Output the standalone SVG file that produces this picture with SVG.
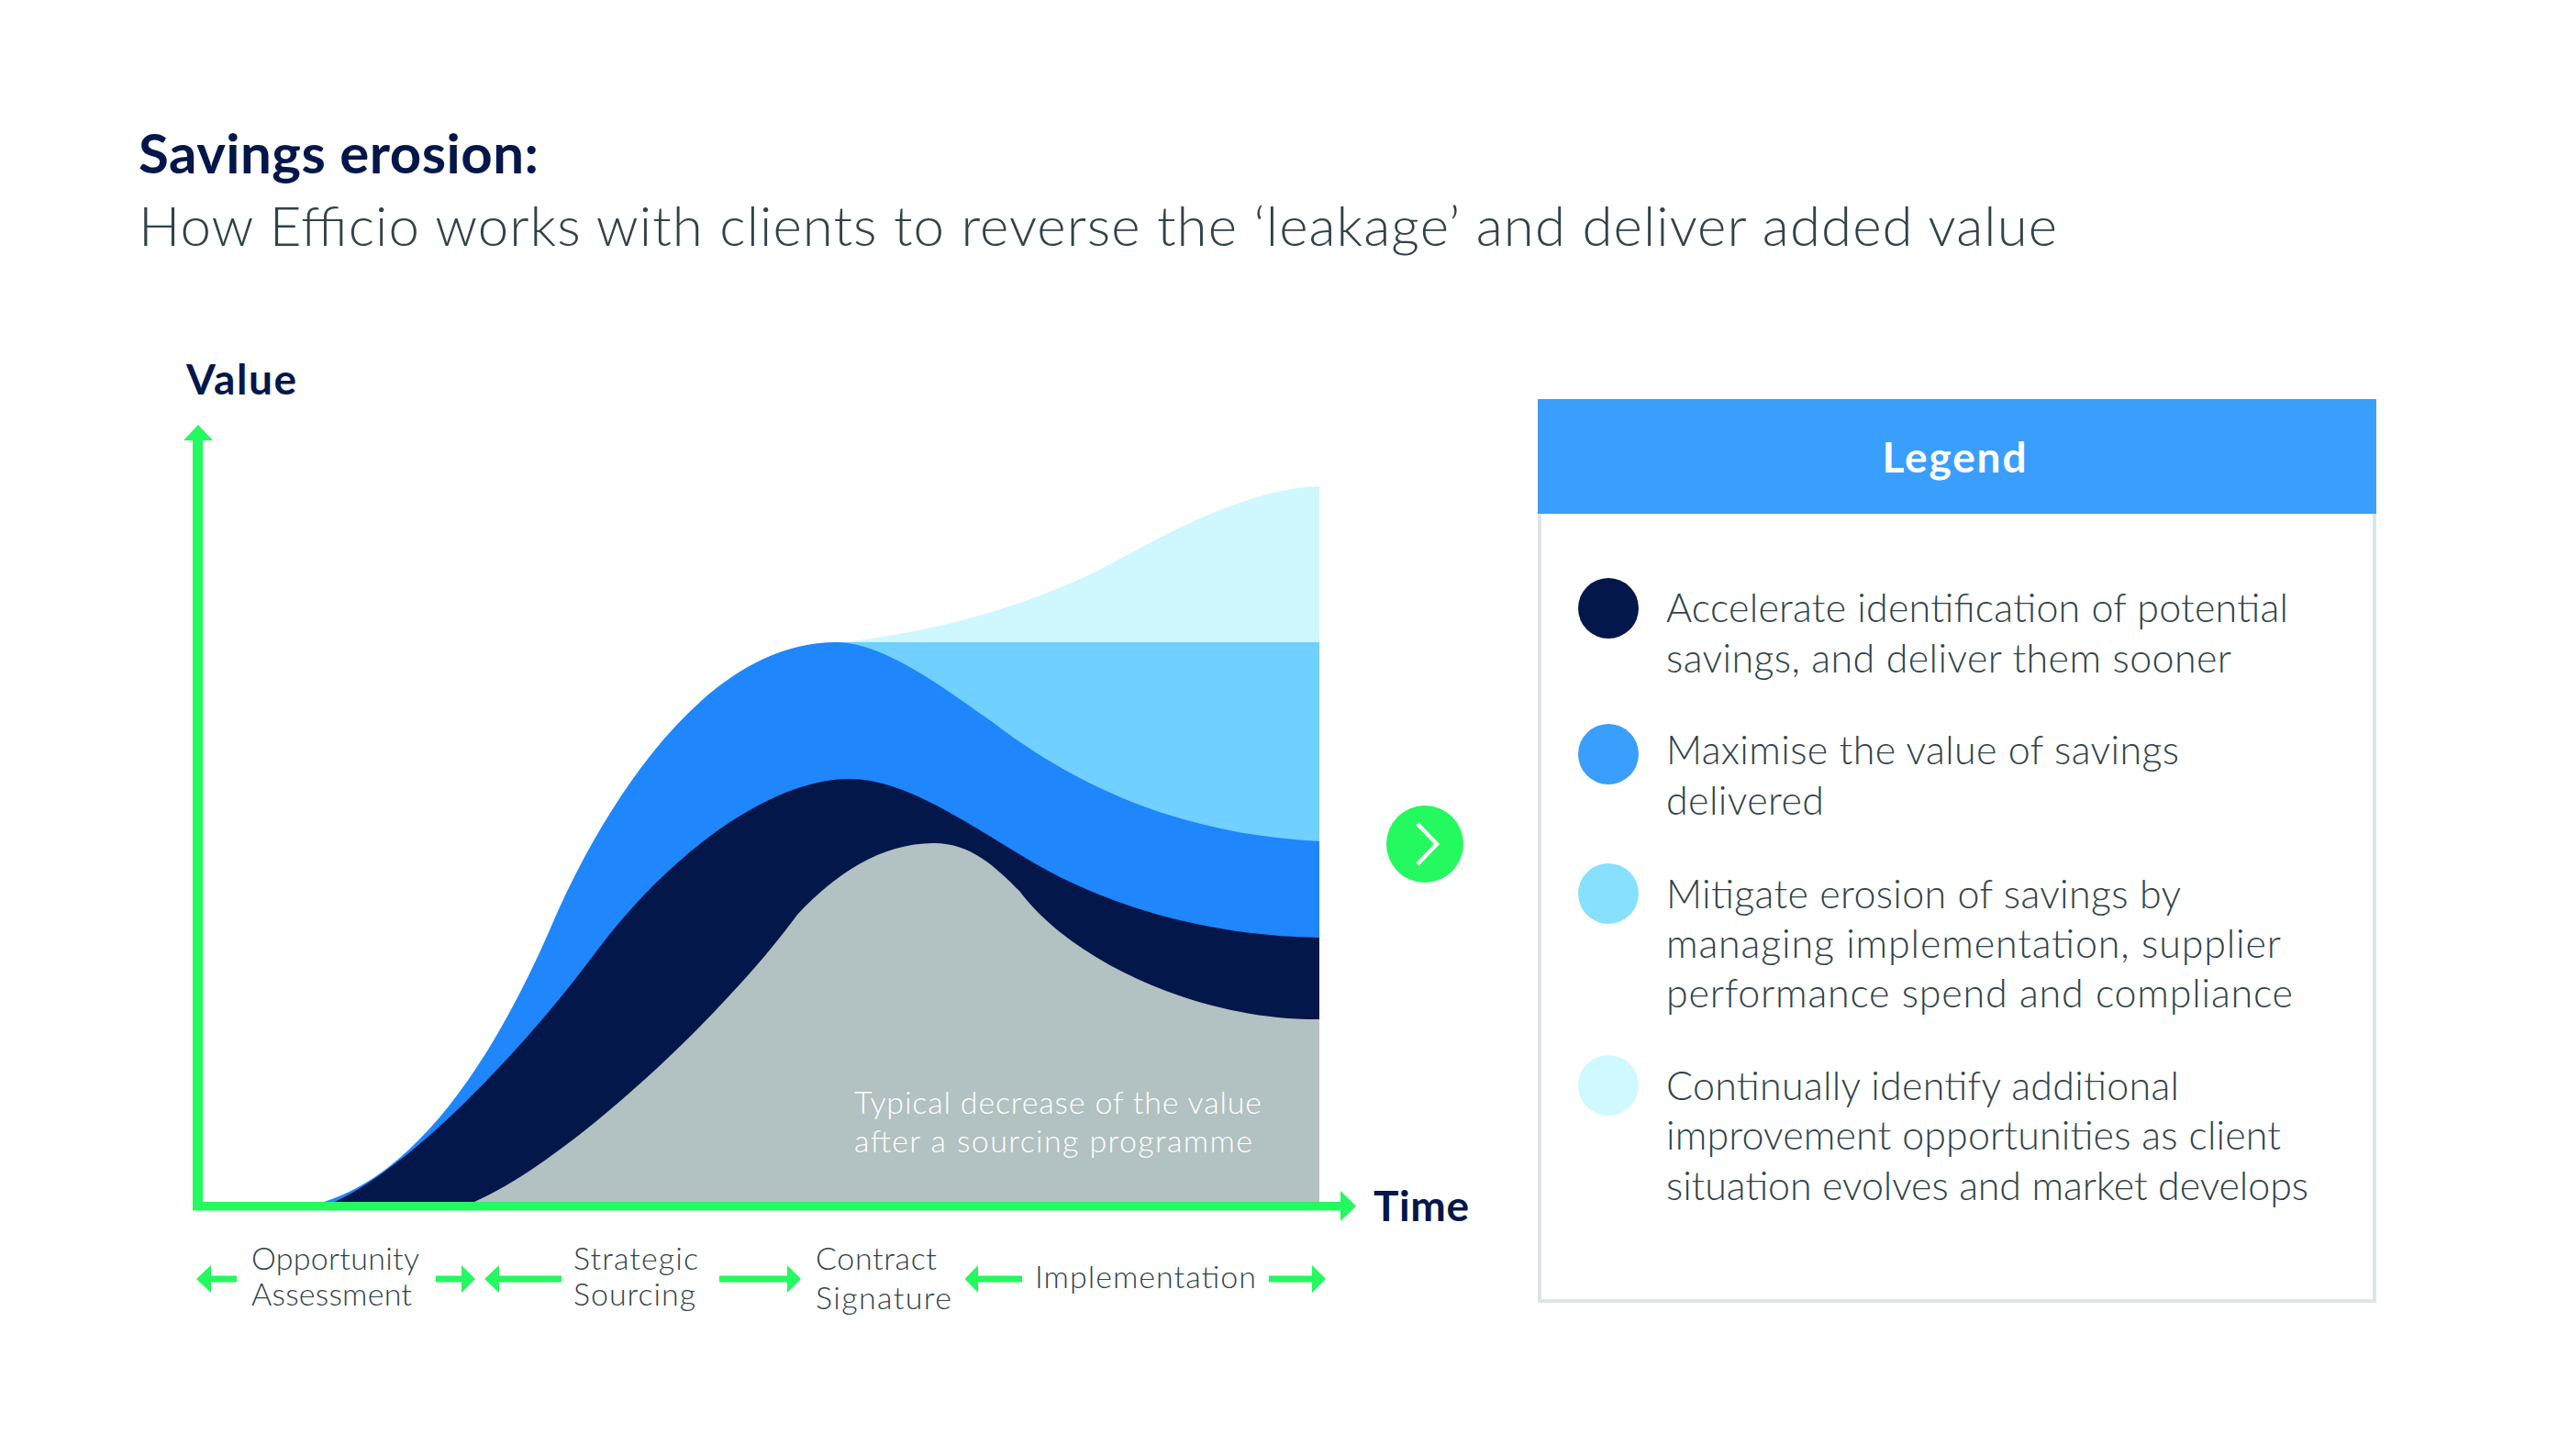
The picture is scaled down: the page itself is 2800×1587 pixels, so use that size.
<svg xmlns="http://www.w3.org/2000/svg" width="2800" height="1587" viewBox="0 0 2800 1587">
<style>
text{font-family:"Lato","Noto Sans",sans-serif}
.h{font-weight:700;fill:#03174a}
.b{font-weight:300;fill:#2f4349}
.l{font-size:34px}
.t{font-size:43px}
.g{fill:#24f95f}
</style>
<rect width="2800" height="1587" fill="#fff"/>
<g id="title">
<text class="h" x="151" y="189" font-size="60" textLength="436">Savings erosion:</text>
<text class="b" x="151" y="268" font-size="60" textLength="2091">How Efficio works with clients to reverse the ‘leakage’ and deliver added value</text>
</g>
<g id="chart-areas">
<path fill="#cff7fe" d="M911 700H919C1030 688 1140 654 1219 610C1290 571 1370 532 1438 530V700Z"/>
<path fill="#70d0ff" d="M911 700H1438V920H1100Z"/>
<path fill="#1f86fb" d="M353 1310C450 1280 535 1165 605 1000C650 898 760 700 911 700C965 700 1033 753.500 1083 788C1185 866 1300 910 1438 917V1030H1000V1310Z"/>
<path fill="#03174a" d="M365 1310C450 1270 570 1145 650 1037C730 930 840 849 926 849C985 849 1050 895 1111 931C1195 984 1310 1020 1438 1022V1120H1000V1310Z"/>
<path fill="#b2c1c1" d="M517 1310C620 1265 790 1105 869 997C910 953 960 919 1018 919C1058 919 1085 945 1111 971C1170 1050 1310 1112 1438 1111V1310Z"/>
<text x="931" y="1214" fill="#fff" font-size="34" font-weight="300" textLength="444">Typical decrease of the value</text>
<text x="931" y="1256" fill="#fff" font-size="34" font-weight="300" textLength="434">after a sourcing programme</text>
</g>
<g id="connectors">
<path class="g" d="M210 1319.500V480H200L216 463L232 480H221V1310H1461V1298L1478 1314.500L1461 1331V1319.500Z"/>
<path class="g" d="M214 1394L230 1379V1390.500H258V1397.500H230V1409Z"/>
<path class="g" d="M518 1394L503 1379V1390.500H475V1397.500H503V1409Z"/>
<path class="g" d="M528 1394L544 1379V1390.500H612V1397.500H544V1409Z"/>
<path class="g" d="M873 1394L858 1379V1390.500H784V1397.500H858V1409Z"/>
<path class="g" d="M1051.500 1394L1066 1379V1390.500H1114V1397.500H1066V1409Z"/>
<path class="g" d="M1445 1394L1430 1379V1390.500H1383V1397.500H1430V1409Z"/>
</g>
<g id="axis-labels">
<text class="h" x="203" y="430" font-size="46" textLength="120">Value</text>
<text class="h" x="1497" y="1331" font-size="46" textLength="104">Time</text>
</g>
<g id="phase-opportunity"><text class="b l" x="274" y="1384" textLength="183">Opportunity</text><text class="b l" x="274" y="1423" textLength="175">Assessment</text></g>
<g id="phase-strategic"><text class="b l" x="625" y="1384" textLength="136">Strategic</text><text class="b l" x="625" y="1423" textLength="133">Sourcing</text></g>
<g id="phase-contract"><text class="b l" x="889" y="1384" textLength="132">Contract</text><text class="b l" x="889" y="1427" textLength="148">Signature</text></g>
<g id="phase-implementation"><text class="b l" x="1128" y="1404" textLength="241">Implementation</text></g>
<g id="next-button">
<circle cx="1553" cy="920" r="42" class="g"/>
<path d="M1545 898L1566 920L1545 942" fill="none" stroke="#fff" stroke-width="4.500"/>
</g>
<g id="legend">
<rect x="1678" y="437" width="910" height="981" fill="#fff" stroke="#dce5e8" stroke-width="4"/>
<rect x="1676" y="435" width="914" height="125" fill="#3a9efd"/>
<text x="2130" y="515" font-size="46" font-weight="700" fill="#fff" text-anchor="middle" textLength="157">Legend</text>
</g>
<g id="legend-item-1">
<circle cx="1753" cy="663" r="33" fill="#03174a"/>
<text class="b t" x="1816" y="678" textLength="678">Accelerate identification of potential</text>
<text class="b t" x="1816" y="733" textLength="616">savings, and deliver them sooner</text>
</g>
<g id="legend-item-2">
<circle cx="1753" cy="822" r="33" fill="#3a9efd"/>
<text class="b t" x="1816" y="833" textLength="559">Maximise the value of savings</text>
<text class="b t" x="1816" y="888" textLength="172">delivered</text>
</g>
<g id="legend-item-3">
<circle cx="1753" cy="974" r="33" fill="#88e0ff"/>
<text class="b t" x="1816" y="990" textLength="561">Mitigate erosion of savings by</text>
<text class="b t" x="1816" y="1044" textLength="670">managing implementation, supplier</text>
<text class="b t" x="1816" y="1098" textLength="683">performance spend and compliance</text>
</g>
<g id="legend-item-4">
<circle cx="1753" cy="1183" r="33" fill="#d0f8ff"/>
<text class="b t" x="1816" y="1199" textLength="559">Continually identify additional</text>
<text class="b t" x="1816" y="1253" textLength="670">improvement opportunities as client</text>
<text class="b t" x="1816" y="1308" textLength="700">situation evolves and market develops</text>
</g>
</svg>
